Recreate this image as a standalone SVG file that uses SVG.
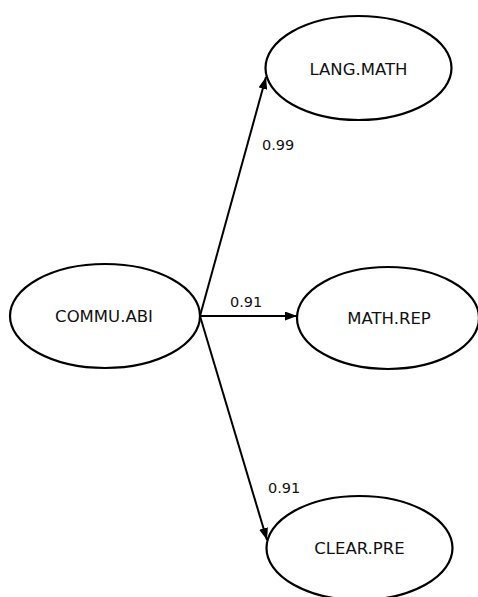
<svg xmlns="http://www.w3.org/2000/svg" width="478" height="597" viewBox="0 0 478 597">
  <defs>
    <marker id="arrow" viewBox="0 0 12 9" refX="12" refY="4.5" markerWidth="12" markerHeight="9" markerUnits="userSpaceOnUse" orient="auto">
      <path d="M0,0 L12,4.5 L0,9 Z" fill="#000"/>
    </marker>
  </defs>
  <style>
    .node ellipse { fill: #fff; stroke: #000; stroke-width: 2.2; }
    .node text { font-family: "DejaVu Sans", "Liberation Sans", sans-serif; font-size: 16.5px; fill: #111; text-anchor: middle; }
    .edge { stroke: #000; stroke-width: 2; fill: none; marker-end: url(#arrow); }
    .label { font-family: "DejaVu Sans", "Liberation Sans", sans-serif; font-size: 14.5px; fill: #111; }
  </style>
  <rect width="478" height="597" fill="#fff"/>

  <g id="connectors">
    <line class="edge" x1="200" y1="316" x2="266" y2="77"/>
    <line class="edge" x1="200" y1="316" x2="297" y2="316"/>
    <line class="edge" x1="200" y1="316" x2="267" y2="540"/>
    <text class="label" x="262" y="150">0.99</text>
    <text class="label" x="230" y="307">0.91</text>
    <text class="label" x="268" y="493">0.91</text>
  </g>

  <g id="lang-math" class="node">
    <ellipse cx="358.5" cy="68" rx="93" ry="52"/>
    <text x="358.5" y="75">LANG.MATH</text>
  </g>

  <g id="commu-abi" class="node">
    <ellipse cx="105" cy="316" rx="95" ry="52"/>
    <text x="104" y="322">COMMU.ABI</text>
  </g>

  <g id="math-rep" class="node">
    <ellipse cx="388" cy="318" rx="91" ry="51"/>
    <text x="389" y="324">MATH.REP</text>
  </g>

  <g id="clear-pre" class="node">
    <ellipse cx="359.5" cy="548" rx="93" ry="52"/>
    <text x="359.5" y="554">CLEAR.PRE</text>
  </g>
</svg>
